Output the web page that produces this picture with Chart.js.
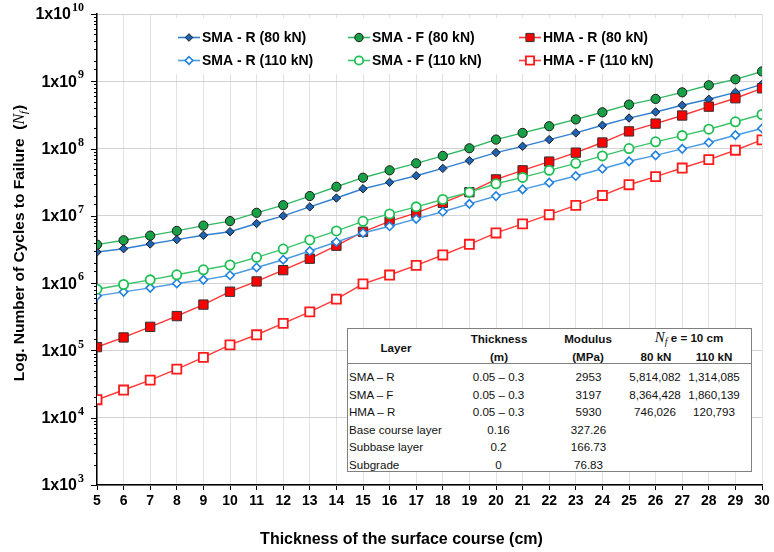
<!DOCTYPE html>
<html><head><meta charset="utf-8">
<script src="https://cdn.jsdelivr.net/npm/chart.js@4.4.0/dist/chart.umd.min.js"></script>
<style>
html,body{margin:0;padding:0;background:#fff;}
#wrap{position:relative;width:774px;height:552px;overflow:hidden;background:#fff;}
#tbl{position:absolute;left:347px;top:328px;width:405px;height:144px;box-sizing:border-box;border:1px solid #808080;background:#fff;font-family:"Liberation Sans",Arial,sans-serif;font-size:11.6px;color:#111;}
#tbl span{position:absolute;white-space:nowrap;transform:translate(-50%,-50%);line-height:1;}
#tbl span.l{transform:translate(0,-50%);}
#tbl .b{font-weight:bold;}
#tbl .sep{position:absolute;left:0;right:0;top:34px;height:0;border-top:1px solid #808080;}
#tbl .nf{font-family:"Liberation Serif","DejaVu Serif",serif;font-style:italic;font-weight:normal;font-size:15px;}
#tbl .nf sub{font-size:10px;vertical-align:-3px;}
</style></head>
<body><div id="wrap"><canvas id="c" width="774" height="552"></canvas><div id="tbl"></div></div>
<script>
// ---------------- data ----------------
const thickness = [5,6,7,8,9,10,11,12,13,14,15,16,17,18,19,20,21,22,23,24,25,26,27,28,29,30];
const smaR80  = [2.90e6,3.25e6,3.82e6,4.44e6,5.14e6,5.81e6,7.69e6,1.00e7,1.36e7,1.84e7,2.53e7,3.15e7,3.95e7,5.08e7,6.62e7,8.72e7,1.08e8,1.36e8,1.71e8,2.22e8,2.84e8,3.50e8,4.40e8,5.40e8,6.85e8,9.00e8];
const smaF80  = [3.73e6,4.34e6,5.08e6,5.97e6,7.17e6,8.36e6,1.11e7,1.44e7,1.97e7,2.71e7,3.69e7,4.75e7,6.04e7,7.78e7,1.01e8,1.36e8,1.71e8,2.15e8,2.71e8,3.46e8,4.50e8,5.47e8,6.85e8,8.72e8,1.07e9,1.40e9];
const hmaR80  = [1.12e5,1.56e5,2.24e5,3.24e5,4.80e5,7.46e5,1.06e6,1.56e6,2.31e6,3.60e6,5.80e6,8.30e6,1.11e7,1.56e7,2.25e7,3.48e7,4.75e7,6.40e7,8.70e7,1.23e8,1.80e8,2.35e8,3.10e8,4.20e8,5.60e8,7.87e8];
const smaR110 = [6.47e5,7.43e5,8.51e5,9.89e5,1.12e6,1.31e6,1.71e6,2.23e6,3.00e6,4.09e6,5.57e6,7.00e6,9.00e6,1.15e7,1.51e7,1.97e7,2.47e7,3.11e7,3.91e7,5.02e7,6.47e7,7.94e7,9.90e7,1.23e8,1.58e8,1.99e8];
const smaF110 = [8.13e5,9.55e5,1.12e6,1.33e6,1.58e6,1.86e6,2.42e6,3.21e6,4.39e6,5.97e6,8.30e6,1.07e7,1.36e7,1.75e7,2.25e7,3.00e7,3.73e7,4.75e7,6.04e7,7.78e7,1.00e8,1.26e8,1.56e8,1.94e8,2.50e8,3.21e8];
const hmaF110 = [1.85e4,2.58e4,3.62e4,5.28e4,7.87e4,1.21e5,1.71e5,2.52e5,3.75e5,5.80e5,9.77e5,1.32e6,1.84e6,2.62e6,3.78e6,5.57e6,7.60e6,1.04e7,1.43e7,2.01e7,2.90e7,3.82e7,5.14e7,6.85e7,9.45e7,1.35e8];
const seriesLabels = ['SMA - R (80 kN)','SMA - F (80 kN)','HMA - R (80 kN)','SMA - R (110 kN)','SMA - F (110 kN)','HMA - F (110 kN)'];
const yTickExponents = [3,4,5,6,7,8,9,10];
const xTitle = 'Thickness of the surface course (cm)';
const yTitle = 'Log. Number of Cycles to Failure  (';

// table
const tableLayers = ['SMA \u2013 R','SMA \u2013 F','HMA \u2013 R','Base course layer','Subbase layer','Subgrade'];
const tableThickness = ['0.05 \u2013  0.3','0.05 \u2013  0.3','0.05 \u2013  0.3','0.16','0.2','0'];
const tableModulus = ['2953','3197','5930','327.26','166.73','76.83'];
const tableNf80 = ['5,814,082','8,364,428','746,026','','',''];
const tableNf110 = ['1,314,085','1,860,139','120,793','','',''];

// ---------------- styles ----------------
const styles = [
  {line:'#2f7fd0', fill:'#1f64b4', border:'#1a1a1a', bw:1, shape:'rectRot', r:4.2},
  {line:'#33b864', fill:'#17a046', border:'#1a1a1a', bw:1, shape:'circle', r:4.6},
  {line:'#ff3333', fill:'#ff0000', border:'#333333', bw:1, shape:'rect', r:6.6},
  {line:'#4a9be2', fill:'#ffffff', border:'#1f80e0', bw:1.6, shape:'rectRot', r:4.2},
  {line:'#3cc46a', fill:'#ffffff', border:'#1fbf55', bw:1.8, shape:'circle', r:4.6},
  {line:'#ff3838', fill:'#ffffff', border:'#ff1a1a', bw:1.8, shape:'rect', r:6.4}
];
const seriesData = [smaR80, smaF80, hmaR80, smaR110, smaF110, hmaF110];

const FONT = '"Liberation Sans", Arial, sans-serif';

const datasets = seriesData.map((arr, i) => ({
  label: seriesLabels[i],
  data: thickness.map((t, k) => ({x: t, y: arr[k]})),
  borderColor: styles[i].line,
  borderWidth: 1.4,
  pointStyle: styles[i].shape,
  pointRadius: styles[i].r,
  pointBackgroundColor: styles[i].fill,
  pointBorderColor: styles[i].border,
  pointBorderWidth: styles[i].bw,
  tension: 0,
  fill: false,
  order: 5 - i
}));

function isMajor(v){ const l = Math.log10(v); return Math.abs(l - Math.round(l)) < 1e-9; }

function drawMarker(ctx, st, x, y){
  ctx.save();
  ctx.fillStyle = st.fill; ctx.strokeStyle = st.border; ctx.lineWidth = st.bw;
  ctx.beginPath();
  const r = st.r;
  if (st.shape === 'circle') { ctx.arc(x, y, r, 0, Math.PI*2); }
  else if (st.shape === 'rect') { const s = r*Math.SQRT1_2; ctx.rect(x-s, y-s, 2*s, 2*s); }
  else { ctx.moveTo(x, y-r); ctx.lineTo(x+r, y); ctx.lineTo(x, y+r); ctx.lineTo(x-r, y); ctx.closePath(); }
  ctx.fill(); ctx.stroke();
  ctx.restore();
}

const decor = {
  id: 'decor',
  afterDraw(chart){
    const ctx = chart.ctx;
    const ys = chart.scales.y;
    const left = chart.chartArea.left;
    ctx.save();
    // y ticks
    ctx.strokeStyle = '#000'; ctx.lineWidth = 1;
    ys.ticks.forEach(t => {
      const py = Math.round(ys.getPixelForValue(t.value)) + 0.5;
      const len = isMajor(t.value) ? 6 : 3;
      ctx.beginPath(); ctx.moveTo(left - len, py); ctx.lineTo(left, py); ctx.stroke();
    });
    // y tick labels 1x10^n
    ctx.fillStyle = '#000';
    ctx.textBaseline = 'middle';
    yTickExponents.forEach(n => {
      const py = ys.getPixelForValue(Math.pow(10, n));
      const expStr = String(n);
      ctx.font = 'bold 12px "Liberation Serif", "DejaVu Serif", serif';
      const we = ctx.measureText(expStr).width;
      ctx.font = 'bold 16px ' + FONT;
      const wb = ctx.measureText('1x10').width;
      const right = 84;
      ctx.textAlign = 'left';
      ctx.fillText('1x10', right - we - 1 - wb, py + 1);
      ctx.font = 'bold 12px "Liberation Serif", "DejaVu Serif", serif';
      ctx.fillText(expStr, right - we, py - 6);
    });
    // x title
    ctx.font = 'bold 16px ' + FONT;
    ctx.textAlign = 'center';
    ctx.fillText(xTitle, 401.5, 540);
    // y title
    ctx.save();
    ctx.translate(20, 243);
    ctx.rotate(-Math.PI/2);
    const f1 = 'bold 15.5px ' + FONT;
    const fN = 'italic 16px "Liberation Serif", "DejaVu Serif", serif';
    const fS = 'italic 11px "Liberation Serif", "DejaVu Serif", serif';
    ctx.font = f1; const w1 = ctx.measureText(yTitle).width; const w4 = ctx.measureText(')').width;
    ctx.font = fN; const w2 = ctx.measureText('N').width;
    ctx.font = fS; const w3 = ctx.measureText('f').width;
    let x0 = -(w1 + w2 + w3 + w4 + 1) / 2;
    ctx.textAlign = 'left';
    ctx.font = f1; ctx.fillText(yTitle, x0, 0); x0 += w1;
    ctx.font = fN; ctx.fillText('N', x0, 0); x0 += w2;
    ctx.font = fS; ctx.fillText('f', x0, 4); x0 += w3 + 1;
    ctx.font = f1; ctx.fillText(')', x0, 0);
    ctx.restore();
    // legend
    ctx.fillStyle = '#fff';
    ctx.fillRect(162, 18, 583, 56);
    const cols = [178, 348, 519];
    const rows = [37, 60];
    seriesLabels.forEach((lab, i) => {
      const lx = cols[i % 3], ly = rows[Math.floor(i / 3)];
      const st = styles[i];
      ctx.strokeStyle = st.line; ctx.lineWidth = 1.6;
      ctx.beginPath(); ctx.moveTo(lx, ly + 0.5); ctx.lineTo(lx + 22, ly + 0.5); ctx.stroke();
      drawMarker(ctx, Object.assign({}, st, {r: st.shape === 'rect' ? 5.8 : st.r - 0.4}), lx + 11, ly + 0.5);
      ctx.fillStyle = '#000';
      ctx.font = 'bold 14px ' + FONT;
      ctx.textAlign = 'left'; ctx.textBaseline = 'middle';
      ctx.fillText(lab, lx + 24, ly + 1);
    });
    ctx.restore();
  }
};

new Chart(document.getElementById('c'), {
  type: 'line',
  data: { datasets },
  options: {
    responsive: false,
    animation: false,
    devicePixelRatio: 1,
    layout: { padding: { left: 0, right: 12, top: 14, bottom: 0 } },
    plugins: { legend: { display: false }, tooltip: { enabled: false } },
    scales: {
      x: {
        type: 'linear', min: 5, max: 30,
        afterFit(s){ s.height = 67; },
        grid: { color: '#e2e2e2', lineWidth: 1, drawTicks: true, tickLength: 5, tickColor: '#000' },
        border: { color: '#000', width: 1.5 },
        ticks: { stepSize: 1, autoSkip: false, maxRotation: 0, minRotation: 0, padding: 3, color: '#000',
                 font: { family: FONT, size: 14, weight: 'bold' } }
      },
      y: {
        type: 'logarithmic', min: 1e3, max: 1e10,
        afterFit(s){ s.width = 97; },
        grid: { color: c => (c.tick && isMajor(c.tick.value)) ? '#d3d3d3' : 'rgba(0,0,0,0)', drawTicks: false },
        border: { color: '#000', width: 1.5 },
        ticks: { display: false, autoSkip: false }
      }
    }
  },
  plugins: [decor]
});

// table
const tbl = document.getElementById('tbl');
function addSpan(html, x, y, cls){
  const s = document.createElement('span');
  s.innerHTML = html; s.style.left = x + 'px'; s.style.top = y + 'px';
  if (cls) s.className = cls;
  tbl.appendChild(s);
}
const sep = document.createElement('div'); sep.className = 'sep'; tbl.appendChild(sep);
addSpan('Layer', 48, 19, 'b');
addSpan('Thickness', 151, 10, 'b');
addSpan('(m)', 151, 28, 'b');
addSpan('Modulus', 240, 10, 'b');
addSpan('(MPa)', 240, 28, 'b');
addSpan('<span class="nf" style="position:static;transform:none">N<sub>f</sub></span> e = 10 cm', 341, 9, 'b');
addSpan('80 kN', 308, 28, 'b');
addSpan('110 kN', 366, 28, 'b');
const rowY = [47.5, 65.5, 83, 100.5, 118, 135.5];
tableLayers.forEach((n, i) => {
  addSpan(n, 1, rowY[i], 'l');
  addSpan(tableThickness[i], 150.5, rowY[i]);
  addSpan(tableModulus[i], 240.5, rowY[i]);
  if (tableNf80[i]) addSpan(tableNf80[i], 307, rowY[i]);
  if (tableNf110[i]) addSpan(tableNf110[i], 366, rowY[i]);
});
</script>
</body></html>
